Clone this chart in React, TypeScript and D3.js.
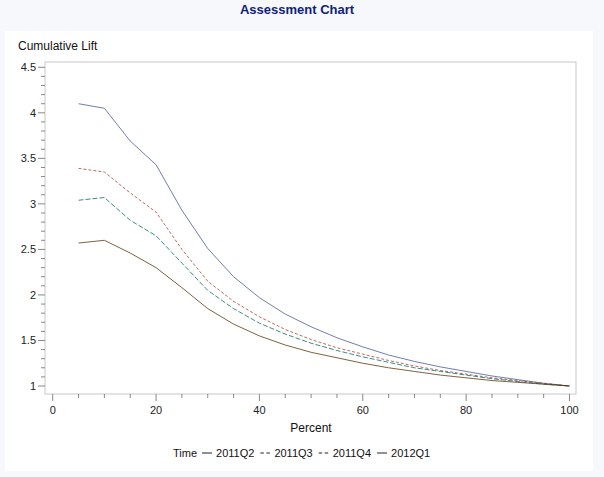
import { useEffect, useRef } from 'react';
import * as d3 from 'd3';

const percents = [5, 10, 15, 20, 25, 30, 35, 40, 45, 50, 55, 60, 65, 70, 75, 80, 85, 90, 95, 100];
const lift2011Q2 = [4.10, 4.05, 3.69, 3.43, 2.93, 2.51, 2.20, 1.97, 1.79, 1.65, 1.53, 1.43, 1.34, 1.27, 1.21, 1.16, 1.11, 1.07, 1.03, 1.0];
const lift2011Q3 = [3.39, 3.35, 3.12, 2.91, 2.50, 2.15, 1.93, 1.76, 1.62, 1.51, 1.42, 1.35, 1.28, 1.22, 1.17, 1.13, 1.09, 1.06, 1.03, 1.0];
const lift2011Q4 = [3.04, 3.07, 2.82, 2.65, 2.35, 2.05, 1.85, 1.69, 1.57, 1.47, 1.39, 1.32, 1.26, 1.20, 1.16, 1.12, 1.08, 1.05, 1.02, 1.0];
const lift2012Q1 = [2.57, 2.60, 2.46, 2.30, 2.08, 1.85, 1.68, 1.55, 1.45, 1.37, 1.31, 1.25, 1.20, 1.16, 1.12, 1.09, 1.06, 1.04, 1.02, 1.0];
const seriesNames = ['2011Q2', '2011Q3', '2011Q4', '2012Q1'];
const seriesColors = ['#445694', '#A23A2E', '#01665E', '#543005'];
const seriesDash = ['', '3,2', '5,2', ''];
const yTicks = [1, 1.5, 2, 2.5, 3, 3.5, 4, 4.5];
const xTicks = [0, 20, 40, 60, 80, 100];

export default function App() {
    const svgRef = useRef<SVGSVGElement>(null);

    useEffect(() => {
        if (!svgRef.current) return;
        const W = 604, H = 477;
        const font = '"Liberation Sans", Arial, sans-serif';
        const frame = { left: 45, right: 576, top: 62, bottom: 394 };

        const x = d3.scaleLinear().domain([0, 100]).range([52.7, 569.5]);
        const y = d3.scaleLinear().domain([1, 4.5]).range([386, 67.3]);

        const svg = d3.select(svgRef.current);
        svg.selectAll('*').remove();
        svg.attr('width', W).attr('height', H);

        svg.append('rect').attr('width', W).attr('height', H).attr('fill', '#f6f8fc');
        svg.append('rect').attr('x', 5).attr('y', 31).attr('width', 588).attr('height', 440).attr('fill', '#ffffff');

        svg.append('text')
            .attr('x', 297).attr('y', 14)
            .attr('text-anchor', 'middle')
            .attr('font-family', font).attr('font-size', 13).attr('font-weight', 'bold')
            .attr('fill', '#112277')
            .text('Assessment Chart');

        svg.append('text')
            .attr('x', 18).attr('y', 50)
            .attr('font-family', font).attr('font-size', 12).attr('fill', '#111')
            .text('Cumulative Lift');

        // Frame
        svg.append('rect')
            .attr('x', frame.left).attr('y', frame.top)
            .attr('width', frame.right - frame.left).attr('height', frame.bottom - frame.top)
            .attr('fill', 'none').attr('stroke', '#c8c8c8').attr('stroke-width', 1);

        // Y ticks (minor every 0.1)
        const yMinor = d3.range(10, 46).map(v => v / 10);
        svg.selectAll('.ymin')
            .data(yMinor)
            .join('line')
            .attr('x1', d => (Math.abs(d * 2 - Math.round(d * 2)) < 1e-6 ? frame.left - 7 : frame.left - 4))
            .attr('x2', frame.left)
            .attr('y1', d => y(d)).attr('y2', d => y(d))
            .attr('stroke', '#888').attr('stroke-width', 1);
        svg.selectAll('.ylbl')
            .data(yTicks)
            .join('text')
            .attr('x', frame.left - 9).attr('y', d => y(d) + 4)
            .attr('text-anchor', 'end')
            .attr('font-family', font).attr('font-size', 11).attr('fill', '#222')
            .text(d => String(d));

        // X ticks (minor every 5)
        const xMinor = d3.range(0, 101, 5);
        svg.selectAll('.xmin')
            .data(xMinor)
            .join('line')
            .attr('x1', d => x(d)).attr('x2', d => x(d))
            .attr('y1', frame.bottom)
            .attr('y2', d => (d % 20 === 0 ? frame.bottom + 7 : frame.bottom + 4))
            .attr('stroke', '#888').attr('stroke-width', 1);
        svg.selectAll('.xlbl')
            .data(xTicks)
            .join('text')
            .attr('x', d => x(d)).attr('y', 414)
            .attr('text-anchor', 'middle')
            .attr('font-family', font).attr('font-size', 11).attr('fill', '#222')
            .text(d => String(d));

        svg.append('text')
            .attr('x', 311).attr('y', 432)
            .attr('text-anchor', 'middle')
            .attr('font-family', font).attr('font-size', 12).attr('fill', '#111')
            .text('Percent');

        // Lines
        const allSeries = [lift2011Q2, lift2011Q3, lift2011Q4, lift2012Q1];
        const line = d3.line<number>().x((_, i) => x(percents[i])).y(d => y(d));
        allSeries.forEach((vals, i) => {
            svg.append('path')
                .attr('d', line(vals))
                .attr('fill', 'none')
                .attr('stroke', seriesColors[i])
                .attr('stroke-opacity', 0.85)
                .attr('stroke-width', 0.9)
                .attr('stroke-dasharray', seriesDash[i] || null);
        });

        // Legend
        const leg = svg.append('g').attr('font-family', font).attr('font-size', 11).attr('fill', '#111');
        let lx = 173;
        const ly = 457;
        const t = leg.append('text').attr('x', lx).attr('y', ly).text('Time');
        lx += (t.node() as SVGTextElement).getComputedTextLength() + 5;
        seriesNames.forEach((name, i) => {
            leg.append('line')
                .attr('x1', lx).attr('x2', lx + 10)
                .attr('y1', ly - 4).attr('y2', ly - 4)
                .attr('stroke', '#222').attr('stroke-width', 1)
                .attr('stroke-dasharray', seriesDash[i] ? '3.5,2.5' : null);
            lx += 14;
            const tt = leg.append('text').attr('x', lx).attr('y', ly).text(name);
            lx += (tt.node() as SVGTextElement).getComputedTextLength() + 6;
        });
    }, []);

    return (
        <div style={{ position: 'absolute', left: 0, top: 0 }}>
            <svg ref={svgRef} style={{ display: 'block' }} />
        </div>
    );
}
